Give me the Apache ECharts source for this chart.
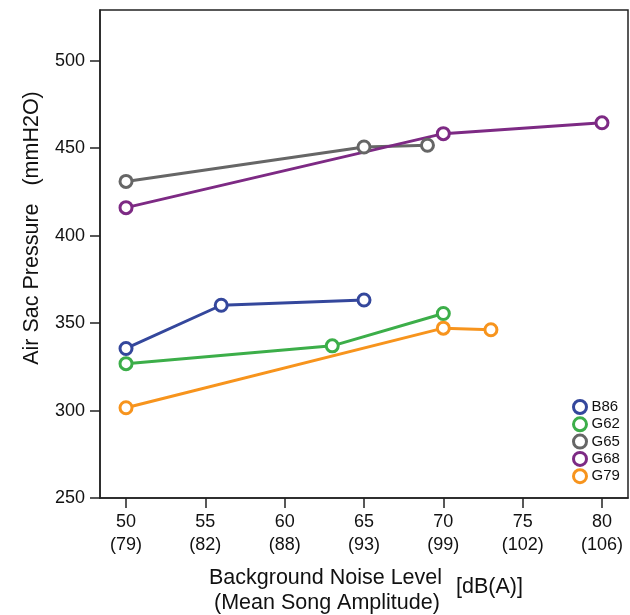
<!DOCTYPE html>
<html><head><meta charset="utf-8">
<script src="https://cdn.jsdelivr.net/npm/echarts@6/dist/echarts.min.js"></script>
<style>html,body{margin:0;padding:0;background:#fff}#c{width:630px;height:615px}</style>
</head><body><div id="c"></div>
<script>
const xTicks = [50, 55, 60, 65, 70, 75, 80];
const ampLabels = ['(79)', '(82)', '(88)', '(93)', '(99)', '(102)', '(106)'];
const yTicks = [250, 300, 350, 400, 450, 500];
const seriesNames = ['B86', 'G62', 'G65', 'G68', 'G79'];
const B86 = [[50, 335.5], [56, 360.2], [65, 363.2]];
const G62 = [[50, 326.8], [63, 337], [70, 355.5]];
const G65 = [[50, 431], [65, 450.7], [69, 451.7]];
const G68 = [[50, 416], [70, 458.3], [80, 464.5]];
const G79 = [[50, 301.6], [70, 347.1], [73, 346.2]];
const seriesData = [B86, G62, G65, G68, G79];
const colors = ['#34479c', '#3cae49', '#666666', '#7d2a84', '#f7941d'];

const FONT = '"Liberation Sans", Arial, Helvetica, sans-serif';
const chart = echarts.init(document.getElementById('c'), null, {renderer: 'canvas'});

chart.setOption({
  animation: false,
  backgroundColor: '#fff',
  textStyle: {fontFamily: FONT},
  grid: {left: 100, right: 2, top: 10, bottom: 117, show: true, borderColor: '#222', borderWidth: 1.5},
  xAxis: {
    type: 'value', min: 48.36, max: 81.64,
    splitLine: {show: false},
    axisLine: {lineStyle: {color: '#222', width: 1.5}},
    axisTick: {show: true, length: 10, lineStyle: {color: '#222', width: 1.5}, customValues: xTicks},
    axisLabel: {
      customValues: xTicks, margin: 13, fontSize: 18, color: '#111', lineHeight: 23, fontFamily: FONT,
      formatter: v => v + '\n' + ampLabels[xTicks.indexOf(v)]
    }
  },
  yAxis: {
    type: 'value', min: 250, max: 529,
    splitLine: {show: false},
    axisLine: {lineStyle: {color: '#222', width: 1.5}},
    axisTick: {show: true, length: 10, lineStyle: {color: '#222', width: 1.5}, customValues: yTicks},
    axisLabel: {customValues: yTicks, margin: 15, fontSize: 18, color: '#111', fontFamily: FONT}
  },
  legend: {
    orient: 'vertical', left: 572, top: 399, icon: 'circle',
    itemWidth: 13, itemHeight: 13, itemGap: 1.3, padding: 0,
    textStyle: {fontSize: 15, color: '#111', fontFamily: FONT},
    data: seriesNames.map((n, i) => ({name: n, itemStyle: {color: '#fff', borderColor: colors[i], borderWidth: 3}}))
  },
  graphic: [
    {type: 'text', left: 209, top: 567, style: {text: 'Background Noise Level', font: '21.5px ' + FONT, fill: '#111'}},
    {type: 'text', left: 214, top: 592, style: {text: '(Mean Song Amplitude)', font: '21.5px ' + FONT, fill: '#111'}},
    {type: 'text', left: 456, top: 576, style: {text: '[dB(A)]', font: '21.5px ' + FONT, fill: '#111'}},
    {type: 'text', x: 32, y: 228, rotation: Math.PI / 2,
     style: {text: 'Air Sac Pressure   (mmH2O)', font: '21.5px ' + FONT, fill: '#111', align: 'center', verticalAlign: 'middle'}}
  ],
  series: seriesData.map((d, i) => ({
    name: seriesNames[i], type: 'line', data: d,
    symbol: 'circle', symbolSize: 12,
    itemStyle: {color: '#fff', borderColor: colors[i], borderWidth: 3},
    lineStyle: {color: colors[i], width: 3},
    z: 2
  }))
});
</script></body></html>
